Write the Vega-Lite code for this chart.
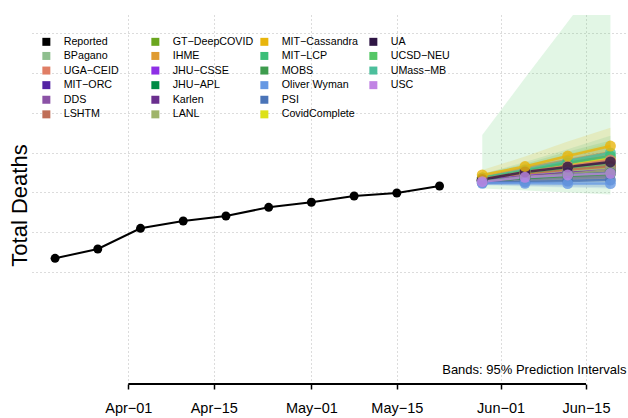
{
  "$schema": "https://vega.github.io/schema/vega-lite/v6.json",
  "width": 596,
  "height": 365,
  "autosize": "none",
  "padding": {"left": 32, "top": 15, "right": 0, "bottom": 38},
  "background": "white",
  "config": {
    "view": {"stroke": null},
    "font": "Liberation Sans",
    "legend": {
      "orient": "none",
      "legendX": 9,
      "legendY": 21,
      "columns": 4,
      "gridAlign": "all",
      "columnPadding": 5,
      "rowPadding": 2.6,
      "symbolType": "square",
      "symbolSize": 64,
      "symbolOpacity": 1,
      "symbolStrokeWidth": 0,
      "labelFont": "Liberation Sans",
      "labelFontSize": 10.7,
      "labelColor": "black",
      "labelOffset": 12,
      "labelLimit": 0,
      "padding": 0,
      "title": null
    }
  },
  "datasets": {
    "obs": [
      {"model": "Reported", "date": "2021-03-20", "value": 8346},
      {"model": "Reported", "date": "2021-03-27", "value": 8580},
      {"model": "Reported", "date": "2021-04-03", "value": 9099},
      {"model": "Reported", "date": "2021-04-10", "value": 9282},
      {"model": "Reported", "date": "2021-04-17", "value": 9408},
      {"model": "Reported", "date": "2021-04-24", "value": 9626},
      {"model": "Reported", "date": "2021-05-01", "value": 9752},
      {"model": "Reported", "date": "2021-05-08", "value": 9910},
      {"model": "Reported", "date": "2021-05-15", "value": 9985},
      {"model": "Reported", "date": "2021-05-22", "value": 10161}
    ],
    "fc": [
      {"model": "UCSD−NEU", "date": "2021-05-29", "value": 10311, "lower": 10100, "upper": 11440},
      {"model": "UCSD−NEU", "date": "2021-06-05", "value": 10462, "lower": 10050, "upper": 12871},
      {"model": "UCSD−NEU", "date": "2021-06-12", "value": 10587, "lower": 10000, "upper": 14276},
      {"model": "UCSD−NEU", "date": "2021-06-19", "value": 10688, "lower": 9950, "upper": 15706},
      {"model": "CovidComplete", "date": "2021-05-29", "value": 10361, "lower": 10280, "upper": 10450},
      {"model": "CovidComplete", "date": "2021-06-05", "value": 10512, "lower": 10350, "upper": 10690},
      {"model": "CovidComplete", "date": "2021-06-12", "value": 10688, "lower": 10430, "upper": 10960},
      {"model": "CovidComplete", "date": "2021-06-19", "value": 10863, "lower": 10500, "upper": 11250},
      {"model": "UMass−MB", "date": "2021-05-29", "value": 10361, "lower": 10270, "upper": 10460},
      {"model": "UMass−MB", "date": "2021-06-05", "value": 10562, "lower": 10380, "upper": 10760},
      {"model": "UMass−MB", "date": "2021-06-12", "value": 10788, "lower": 10500, "upper": 11080},
      {"model": "UMass−MB", "date": "2021-06-19", "value": 10989, "lower": 10600, "upper": 11420},
      {"model": "MIT−LCP", "date": "2021-05-29", "value": 10361, "lower": 10260, "upper": 10470},
      {"model": "MIT−LCP", "date": "2021-06-05", "value": 10537, "lower": 10360, "upper": 10720},
      {"model": "MIT−LCP", "date": "2021-06-12", "value": 10738, "lower": 10470, "upper": 11020},
      {"model": "MIT−LCP", "date": "2021-06-19", "value": 10913, "lower": 10550, "upper": 11300},
      {"model": "UGA−CEID", "date": "2021-05-29", "value": 10336, "lower": 10230, "upper": 10440},
      {"model": "UGA−CEID", "date": "2021-06-05", "value": 10512, "lower": 10340, "upper": 10690},
      {"model": "UGA−CEID", "date": "2021-06-12", "value": 10662, "lower": 10400, "upper": 10930},
      {"model": "UGA−CEID", "date": "2021-06-19", "value": 10813, "lower": 10460, "upper": 11180},
      {"model": "GT−DeepCOVID", "date": "2021-05-29", "value": 10311, "lower": 10220, "upper": 10400},
      {"model": "GT−DeepCOVID", "date": "2021-06-05", "value": 10437, "lower": 10290, "upper": 10590},
      {"model": "GT−DeepCOVID", "date": "2021-06-12", "value": 10562, "lower": 10350, "upper": 10790},
      {"model": "GT−DeepCOVID", "date": "2021-06-19", "value": 10637, "lower": 10380, "upper": 10930},
      {"model": "IHME", "date": "2021-05-29", "value": 10311, "lower": 10240, "upper": 10380},
      {"model": "IHME", "date": "2021-06-05", "value": 10437, "lower": 10320, "upper": 10560},
      {"model": "IHME", "date": "2021-06-12", "value": 10537, "lower": 10370, "upper": 10710},
      {"model": "IHME", "date": "2021-06-19", "value": 10612, "lower": 10400, "upper": 10850},
      {"model": "LSHTM", "date": "2021-05-29", "value": 10311, "lower": 10200, "upper": 10430},
      {"model": "LSHTM", "date": "2021-06-05", "value": 10437, "lower": 10260, "upper": 10630},
      {"model": "LSHTM", "date": "2021-06-12", "value": 10562, "lower": 10300, "upper": 10850},
      {"model": "LSHTM", "date": "2021-06-19", "value": 10662, "lower": 10330, "upper": 11040},
      {"model": "BPagano", "date": "2021-05-29", "value": 10299, "lower": 10220, "upper": 10380},
      {"model": "BPagano", "date": "2021-06-05", "value": 10411, "lower": 10290, "upper": 10540},
      {"model": "BPagano", "date": "2021-06-12", "value": 10512, "lower": 10340, "upper": 10690},
      {"model": "BPagano", "date": "2021-06-19", "value": 10587, "lower": 10370, "upper": 10820},
      {"model": "JHU−CSSE", "date": "2021-05-29", "value": 10299, "lower": 10230, "upper": 10370},
      {"model": "JHU−CSSE", "date": "2021-06-05", "value": 10411, "lower": 10300, "upper": 10530},
      {"model": "JHU−CSSE", "date": "2021-06-12", "value": 10487, "lower": 10340, "upper": 10650},
      {"model": "JHU−CSSE", "date": "2021-06-19", "value": 10562, "lower": 10370, "upper": 10770},
      {"model": "Karlen", "date": "2021-05-29", "value": 10286, "lower": 10210, "upper": 10360},
      {"model": "Karlen", "date": "2021-06-05", "value": 10386, "lower": 10270, "upper": 10510},
      {"model": "Karlen", "date": "2021-06-12", "value": 10487, "lower": 10320, "upper": 10660},
      {"model": "Karlen", "date": "2021-06-19", "value": 10537, "lower": 10330, "upper": 10780},
      {"model": "MIT−ORC", "date": "2021-05-29", "value": 10286, "lower": 10200, "upper": 10380},
      {"model": "MIT−ORC", "date": "2021-06-05", "value": 10386, "lower": 10250, "upper": 10540},
      {"model": "MIT−ORC", "date": "2021-06-12", "value": 10462, "lower": 10280, "upper": 10680},
      {"model": "MIT−ORC", "date": "2021-06-19", "value": 10537, "lower": 10300, "upper": 10820},
      {"model": "DDS", "date": "2021-05-29", "value": 10286, "lower": 10220, "upper": 10350},
      {"model": "DDS", "date": "2021-06-05", "value": 10361, "lower": 10260, "upper": 10470},
      {"model": "DDS", "date": "2021-06-12", "value": 10437, "lower": 10300, "upper": 10590},
      {"model": "DDS", "date": "2021-06-19", "value": 10512, "lower": 10330, "upper": 10710},
      {"model": "LANL", "date": "2021-05-29", "value": 10286, "lower": 10210, "upper": 10370},
      {"model": "LANL", "date": "2021-06-05", "value": 10386, "lower": 10260, "upper": 10520},
      {"model": "LANL", "date": "2021-06-12", "value": 10462, "lower": 10300, "upper": 10650},
      {"model": "LANL", "date": "2021-06-19", "value": 10562, "lower": 10350, "upper": 10800},
      {"model": "JHU−APL", "date": "2021-05-29", "value": 10286, "lower": 10220, "upper": 10350},
      {"model": "JHU−APL", "date": "2021-06-05", "value": 10361, "lower": 10260, "upper": 10470},
      {"model": "JHU−APL", "date": "2021-06-12", "value": 10437, "lower": 10290, "upper": 10600},
      {"model": "JHU−APL", "date": "2021-06-19", "value": 10487, "lower": 10310, "upper": 10690},
      {"model": "MOBS", "date": "2021-05-29", "value": 10286, "lower": 10230, "upper": 10340},
      {"model": "MOBS", "date": "2021-06-05", "value": 10361, "lower": 10270, "upper": 10460},
      {"model": "MOBS", "date": "2021-06-12", "value": 10411, "lower": 10290, "upper": 10550},
      {"model": "MOBS", "date": "2021-06-19", "value": 10462, "lower": 10310, "upper": 10640},
      {"model": "PSI", "date": "2021-05-29", "value": 10248, "lower": 10190, "upper": 10310},
      {"model": "PSI", "date": "2021-06-05", "value": 10261, "lower": 10170, "upper": 10360},
      {"model": "PSI", "date": "2021-06-12", "value": 10286, "lower": 10150, "upper": 10430},
      {"model": "PSI", "date": "2021-06-19", "value": 10311, "lower": 10130, "upper": 10500},
      {"model": "UA", "date": "2021-05-29", "value": 10324, "lower": 10250, "upper": 10400},
      {"model": "UA", "date": "2021-06-05", "value": 10512, "lower": 10380, "upper": 10650},
      {"model": "UA", "date": "2021-06-12", "value": 10637, "lower": 10450, "upper": 10840},
      {"model": "UA", "date": "2021-06-19", "value": 10763, "lower": 10510, "upper": 11040},
      {"model": "MIT−Cassandra", "date": "2021-05-29", "value": 10437, "lower": 10330, "upper": 10560},
      {"model": "MIT−Cassandra", "date": "2021-06-05", "value": 10650, "lower": 10420, "upper": 10900},
      {"model": "MIT−Cassandra", "date": "2021-06-12", "value": 10913, "lower": 10550, "upper": 11280},
      {"model": "MIT−Cassandra", "date": "2021-06-19", "value": 11164, "lower": 10650, "upper": 11620},
      {"model": "Oliver Wyman", "date": "2021-05-29", "value": 10228, "lower": 10180, "upper": 10280},
      {"model": "Oliver Wyman", "date": "2021-06-05", "value": 10228, "lower": 10150, "upper": 10310},
      {"model": "Oliver Wyman", "date": "2021-06-12", "value": 10223, "lower": 10120, "upper": 10330},
      {"model": "Oliver Wyman", "date": "2021-06-19", "value": 10223, "lower": 10100, "upper": 10350},
      {"model": "USC", "date": "2021-05-29", "value": 10268, "lower": 10210, "upper": 10330},
      {"model": "USC", "date": "2021-06-05", "value": 10379, "lower": 10280, "upper": 10480},
      {"model": "USC", "date": "2021-06-12", "value": 10437, "lower": 10300, "upper": 10580},
      {"model": "USC", "date": "2021-06-19", "value": 10479, "lower": 10310, "upper": 10660}
    ],
    "axisline": [{"start": "2021-04-01", "end": "2021-06-15"}]
  },
  "encoding": {
    "x": {
      "field": "date",
      "type": "temporal",
      "scale": {
        "type": "utc",
        "domain": [
          {"year": 2021, "month": 3, "date": 16, "hours": 5, "minutes": 18, "utc": true},
          {"year": 2021, "month": 6, "date": 21, "hours": 21, "minutes": 7, "utc": true}
        ]
      },
      "axis": {
        "title": "Bands: 95% Prediction Intervals",
        "titleFont": "Liberation Sans",
        "titleFontSize": 13,
        "titleFontWeight": "normal",
        "titleColor": "black",
        "titleX": 594,
        "titleY": -11,
        "titleAlign": "right",
        "titleBaseline": "alphabetic",
        "titleAngle": 0,
        "offset": 4,
        "domain": false,
        "ticks": true,
        "tickSize": 5,
        "tickColor": "black",
        "tickWidth": 1.5,
        "labelFontSize": 14.5,
        "labelFont": "Liberation Sans",
        "labelColor": "black",
        "labelPadding": 12,
        "labelExpr": "utcFormat(datum.value, '%b−%d')",
        "values": [
          {"year": 2021, "month": 4, "date": 1, "utc": true},
          {"year": 2021, "month": 4, "date": 15, "utc": true},
          {"year": 2021, "month": 5, "date": 1, "utc": true},
          {"year": 2021, "month": 5, "date": 15, "utc": true},
          {"year": 2021, "month": 6, "date": 1, "utc": true},
          {"year": 2021, "month": 6, "date": 15, "utc": true}
        ],
        "grid": true,
        "gridColor": "#b8b8b8",
        "gridDash": [1, 3],
        "gridWidth": 1
      }
    },
    "y": {
      "type": "quantitative",
      "scale": {"domain": [5292, 14452], "nice": false, "zero": false},
      "axis": {
        "title": "Total Deaths",
        "titleFont": "Liberation Sans",
        "titleFontSize": 22,
        "titleFontWeight": "normal",
        "titleColor": "black",
        "titleAngle": -90,
        "titleX": -6,
        "titleY": 190,
        "titleAlign": "center",
        "titleBaseline": "alphabetic",
        "labels": false,
        "ticks": false,
        "domain": false,
        "values": [8000, 9000, 10000, 11000, 12000, 13000, 14000],
        "grid": true,
        "gridColor": "#b8b8b8",
        "gridDash": [1, 3],
        "gridWidth": 1
      }
    },
    "color": {
      "field": "model",
      "type": "nominal",
      "scale": {
        "domain": ["Reported", "BPagano", "UGA−CEID", "MIT−ORC", "DDS", "LSHTM",
                   "GT−DeepCOVID", "IHME", "JHU−CSSE", "JHU−APL", "Karlen", "LANL",
                   "MIT−Cassandra", "MIT−LCP", "MOBS", "Oliver Wyman", "PSI", "CovidComplete",
                   "UA", "UCSD−NEU", "UMass−MB", "USC", " ", "  "],
        "range": ["#000000", "#8fbf8f", "#e07e65", "#5424a4", "#8b52a6", "#bf6e57",
                  "#6aa61f", "#df9b30", "#8e2fe6", "#008c45", "#6a2f8e", "#9fb46a",
                  "#e8b50c", "#3cbe78", "#3e9c4e", "#6698e3", "#4a74b8", "#dde118",
                  "#2e1544", "#55c766", "#4cbf9c", "#c184e4", "transparent", "transparent"]
      },
      "legend": {
        "encode": {
          "symbols": {
            "update": {
              "fill": {"scale": "color", "field": "value"},
              "stroke": {"value": "transparent"},
              "opacity": {"value": 1}
            }
          }
        }
      }
    }
  },
  "layer": [
    {
      "data": {"name": "fc"},
      "mark": {"type": "area", "opacity": 0.17, "clip": true},
      "encoding": {
        "y": {"field": "upper", "type": "quantitative"},
        "y2": {"field": "lower"},
        "detail": {"field": "model"}
      }
    },
    {
      "data": {"name": "fc"},
      "mark": {"type": "line", "strokeWidth": 2.5, "opacity": 0.8},
      "encoding": {"y": {"field": "value", "type": "quantitative"}}
    },
    {
      "data": {"name": "fc"},
      "mark": {"type": "point", "filled": true, "size": 120, "opacity": 0.8},
      "encoding": {"y": {"field": "value", "type": "quantitative"}}
    },
    {
      "data": {"name": "obs"},
      "mark": {"type": "line", "strokeWidth": 2},
      "encoding": {"y": {"field": "value", "type": "quantitative"}}
    },
    {
      "data": {"name": "obs"},
      "mark": {"type": "point", "filled": true, "size": 80, "opacity": 1},
      "encoding": {"y": {"field": "value", "type": "quantitative"}}
    },
    {
      "data": {"name": "axisline"},
      "mark": {"type": "rule", "color": "black", "strokeWidth": 2, "clip": false},
      "encoding": {
        "x": {"field": "start", "type": "temporal"},
        "x2": {"field": "end"},
        "y": {"datum": 5192},
        "color": null
      }
    }
  ]
}
